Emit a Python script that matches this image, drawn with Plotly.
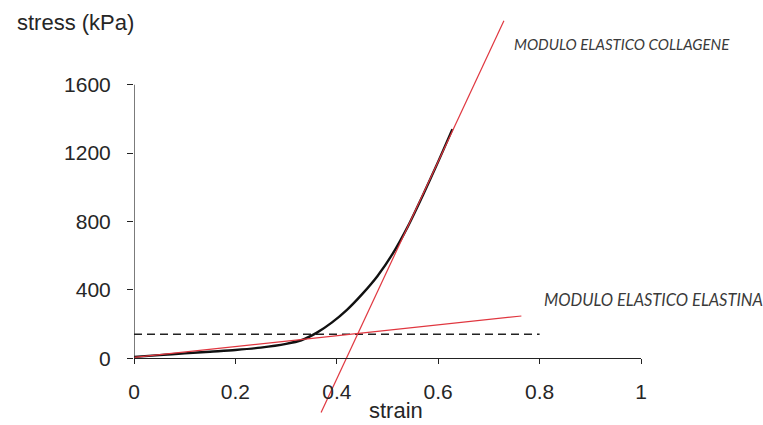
import plotly.graph_objects as go

# ---- data ----
strain = [0, 0.05, 0.1, 0.15, 0.2, 0.25, 0.3, 0.33, 0.36, 0.39, 0.42, 0.45, 0.48, 0.51, 0.54, 0.57, 0.6, 0.628]
stress = [8, 18, 28, 38, 48, 62, 84, 105, 148, 208, 283, 375, 480, 610, 770, 955, 1150, 1340]

collagen_x = [0.369, 0.7296]
collagen_y = [-317, 1974]

elastin_x = [0, 0.764]
elastin_y = [5, 247]

dashed_x = [0, 0.8]
dashed_y = [140, 140]

x_ticks = [0, 0.2, 0.4, 0.6, 0.8, 1]
x_ticktext = ["0", "0.2", "0.4", "0.6", "0.8", "1"]
y_ticks = [0, 400, 800, 1200, 1600]
y_ticktext = ["0", "400", "800", "1200", "1600"]

RED = "#e0363f"
TXT = "#262626"

fig = go.Figure()
fig.add_trace(go.Scatter(x=dashed_x, y=dashed_y, mode="lines",
                         line=dict(color="#222222", width=1.3, dash="8px,5px"), showlegend=False))
fig.add_trace(go.Scatter(x=strain, y=stress, mode="lines", line_shape="spline",
                         line=dict(color="#111111", width=2.4, smoothing=0.8), showlegend=False))
fig.add_trace(go.Scatter(x=elastin_x, y=elastin_y, mode="lines",
                         line=dict(color=RED, width=1.2), showlegend=False))
fig.add_trace(go.Scatter(x=collagen_x, y=collagen_y, mode="lines",
                         line=dict(color=RED, width=1.2), showlegend=False))

# y axis line only from 0 to 1600
fig.add_shape(type="line", xref="x", yref="y", x0=0, x1=0, y0=0, y1=y_ticks[-1],
              line=dict(color="#222222", width=1.2), layer="above")

tickfont = dict(family="Liberation Sans, Arial, sans-serif", size=21, color=TXT)

fig.update_layout(
    width=763, height=425,
    margin=dict(l=134, r=122.3, t=14, b=8),
    paper_bgcolor="white", plot_bgcolor="white",
    xaxis=dict(range=[0, 1], tickvals=x_ticks, ticktext=x_ticktext,
               anchor="free", position=0.1459,
               showline=True, linecolor="#222222", linewidth=1.2,
               ticks="outside", ticklen=5, tickcolor="#222222", tickwidth=1.2,
               showgrid=False, zeroline=False, tickfont=tickfont,
               ticklabelstandoff=9),
    yaxis=dict(range=[-344, 2013.6], tickvals=y_ticks, ticktext=y_ticktext,
               showline=False, ticks="outside", ticklen=6, tickcolor="#222222", tickwidth=1.2,
               showgrid=False, zeroline=False, tickfont=tickfont,
               ticklabelstandoff=12),
    annotations=[
        dict(text="stress (kPa)", x=-0.1145, y=0.9777, xref="paper", yref="paper",
             showarrow=False, xanchor="center", yanchor="middle",
             font=dict(family="Liberation Sans, Arial, sans-serif", size=22, color=TXT)),
        dict(text="strain", x=0.517, y=0.015, xref="paper", yref="paper",
             showarrow=False, xanchor="center", yanchor="middle",
             font=dict(family="Liberation Sans, Arial, sans-serif", size=22, color=TXT)),
        dict(text="<i>MODULO ELASTICO COLLAGENE</i>", x=0.7454, y=1838, xref="x", yref="y",
             showarrow=False, xanchor="left", yanchor="middle",
             font=dict(family="Lato, Open Sans, sans-serif", size=15, color="#3a3a3a")),
        dict(text="<i>MODULO ELASTICO ELASTINA</i>", x=0.8046, y=340, xref="x", yref="y",
             showarrow=False, xanchor="left", yanchor="middle",
             font=dict(family="Lato, Open Sans, sans-serif", size=16.5, color="#3a3a3a")),
    ],
)

fig.write_html("out.html")
